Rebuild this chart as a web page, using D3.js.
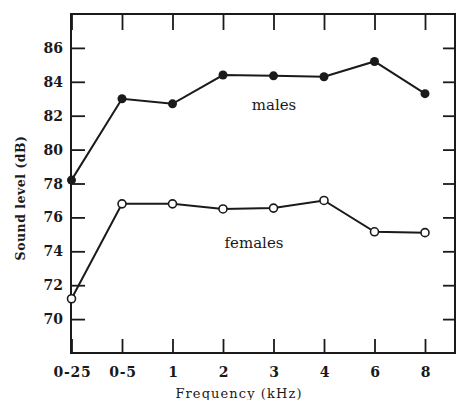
<!DOCTYPE html>
<html><head><meta charset="utf-8">
<script src="https://cdn.jsdelivr.net/npm/d3@7"></script>
<style>body{margin:0;background:#fff}</style>
</head><body>
<svg id="c" width="457" height="400"></svg>
<script>
const categories = ["0-25","0-5","1","2","3","4","6","8"];
const males = [78.2, 83.0, 82.7, 84.4, 84.35, 84.3, 85.2, 83.3];
const females = [71.2, 76.8, 76.8, 76.5, 76.55, 77.0, 75.15, 75.1];
const yTicks = [70,72,74,76,78,80,82,84,86];

const svg = d3.select("#c");
const L = 71, R = 455, T = 14, B = 353;
const x = d3.scalePoint().domain(categories).range([71.5, 425]);
const y = d3.scaleLinear().domain([68, 88]).range([B, T]);
const ink = "#1a1a1a";
const font = "'DejaVu Serif', 'Liberation Serif', serif";

svg.append("rect").attr("x", L).attr("y", T).attr("width", R-L).attr("height", B-T)
  .attr("fill", "none").attr("stroke", ink).attr("stroke-width", 2);

// left axis
const gl = svg.append("g").attr("transform", `translate(${L},0)`)
  .call(d3.axisRight(y).tickValues(yTicks).tickSize(14).tickFormat(""));
gl.select(".domain").remove();
gl.selectAll("line").attr("stroke", ink).attr("stroke-width", 1.8);
svg.append("g").selectAll("text").data(yTicks).join("text")
  .attr("x", 63).attr("y", d => y(d)).attr("dy", "0.36em").attr("text-anchor", "end")
  .attr("font-family", font).attr("font-weight", "bold").attr("font-size", 14).attr("fill", ink)
  .text(d => d);
// right axis
const gr = svg.append("g").attr("transform", `translate(${R},0)`)
  .call(d3.axisLeft(y).tickValues(yTicks).tickSize(12).tickFormat(""));
gr.select(".domain").remove();
gr.selectAll("line").attr("stroke", ink).attr("stroke-width", 1.8);
// bottom axis
const gb = svg.append("g").attr("transform", `translate(0,${B})`)
  .call(d3.axisTop(x).tickSize(14).tickFormat(""));
gb.select(".domain").remove();
gb.selectAll("line").attr("stroke", ink).attr("stroke-width", 1.8);
svg.append("g").selectAll("text").data(categories).join("text")
  .attr("x", d => x(d) + 1).attr("y", 377).attr("text-anchor", "middle")
  .attr("font-family", font).attr("font-weight", "bold").attr("font-size", 14).attr("fill", ink)
  .attr("letter-spacing", 0.8)
  .text(d => d);
// top axis
const gt = svg.append("g").attr("transform", `translate(0,${T})`)
  .call(d3.axisBottom(x).tickSize(16).tickFormat(""));
gt.select(".domain").remove();
gt.selectAll("line").attr("stroke", ink).attr("stroke-width", 1.8);

// axis titles
svg.append("text").attr("x", 239).attr("y", 398).attr("text-anchor", "middle")
  .attr("font-family", font).attr("font-size", 13).attr("fill", ink)
  .attr("letter-spacing", 1.1)
  .text("Frequency (kHz)");
svg.append("text").attr("transform", "translate(25,198) rotate(-90)").attr("text-anchor", "middle")
  .attr("font-family", font).attr("font-size", 12.5).attr("fill", ink).attr("font-weight","bold")
  .attr("letter-spacing", 0.5)
  .text("Sound level (dB)");

// lines
const line = d3.line().x((d, i) => x(categories[i])).y(d => y(d));
[males, females].forEach(s => {
  svg.append("path").datum(s).attr("d", line).attr("fill", "none")
    .attr("stroke", ink).attr("stroke-width", 2);
});
svg.append("g").selectAll("circle").data(males).join("circle")
  .attr("cx", (d, i) => x(categories[i])).attr("cy", d => y(d)).attr("r", 4.5)
  .attr("fill", ink);
svg.append("g").selectAll("circle").data(females).join("circle")
  .attr("cx", (d, i) => x(categories[i])).attr("cy", d => y(d)).attr("r", 4)
  .attr("fill", "#fff").attr("stroke", ink).attr("stroke-width", 1.6);

svg.append("text").attr("x", 274).attr("y", 110).attr("text-anchor", "middle")
  .attr("font-family", font).attr("font-size", 15).attr("fill", ink).text("males");
svg.append("text").attr("x", 254).attr("y", 248).attr("text-anchor", "middle")
  .attr("font-family", font).attr("font-size", 15).attr("fill", ink).text("females");
</script>
</body></html>
